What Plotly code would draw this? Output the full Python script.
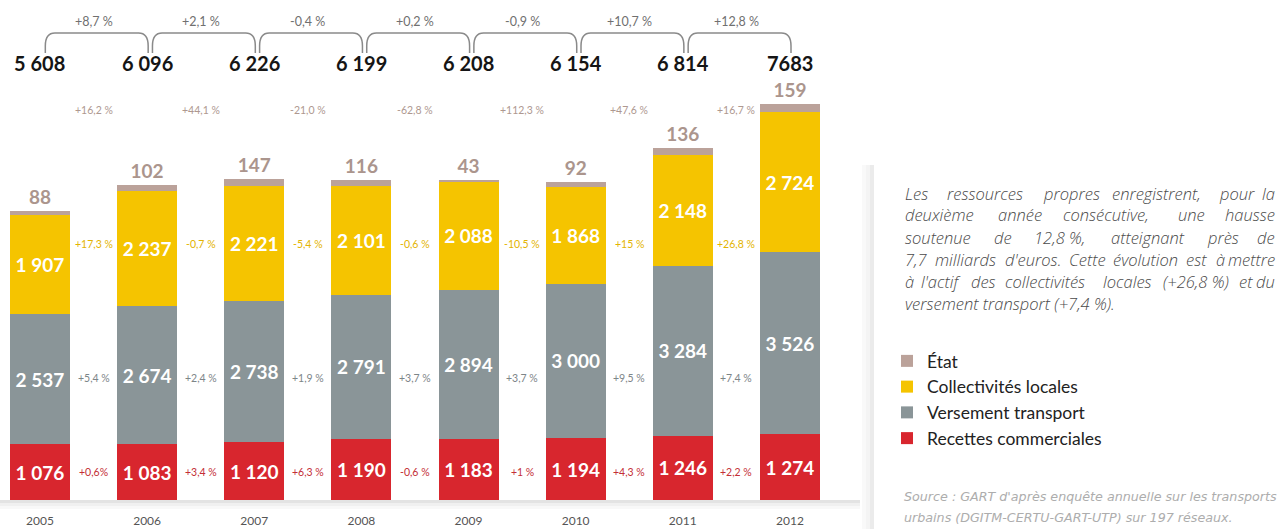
import plotly.graph_objects as go

years = ['2005', '2006', '2007', '2008', '2009', '2010', '2011', '2012']
recettes = [1076, 1083, 1120, 1190, 1183, 1194, 1246, 1274]
versement = [2537, 2674, 2738, 2791, 2894, 3000, 3284, 3526]
collectivites = [1907, 2237, 2221, 2101, 2088, 1868, 2148, 2724]
etat = [88, 102, 147, 116, 43, 92, 136, 159]
totaux = ['5 608', '6 096', '6 226', '6 199', '6 208', '6 154', '6 814', '7683']

evol_total = ['+8,7 %', '+2,1 %', '-0,4 %', '+0,2 %', '-0,9 %', '+10,7 %', '+12,8 %']
evol_etat = ['+16,2 %', '+44,1 %', '-21,0 %', '-62,8 %', '+112,3 %', '+47,6 %', '+16,7 %']
evol_coll = ['+17,3 %', '-0,7 %', '-5,4 %', '-0,6 %', '-10,5 %', '+15 %', '+26,8 %']
evol_vt = ['+5,4 %', '+2,4 %', '+1,9 %', '+3,7 %', '+3,7 %', '+9,5 %', '+7,4 %']
evol_rc = ['+0,6%', '+3,4 %', '+6,3 %', '-0,6 %', '+1 %', '+4,3 %', '+2,2 %']

paragraphe = [
    "Les ressources propres enregistrent, pour la",
    "deuxième année consécutive, une hausse",
    "soutenue de 12,8\u00a0%, atteignant près de",
    "7,7 milliards d'euros. Cette évolution est à mettre",
    "à l'actif des collectivités locales (+26,8\u00a0%) et du",
    "versement transport (+7,4\u00a0%).",
]
source = [
    "Source : GART d'après enquête annuelle sur les transports",
    "urbains (DGITM-CERTU-GART-UTP) sur 197 réseaux.",
]

C_RC = '#d8262e'
C_VT = '#8a9598'
C_COLL = '#f5c400'
C_ETAT = '#bba29a'
FONT = 'Lato'
PW, PH = 860, 500   # zone de tracé en pixels

xs = list(range(len(years)))


def fmt(v):
    return f'{v:,}'.replace(',', ' ')


def seg(name, vals, color):
    return go.Bar(
        x=xs, y=vals, name=name, marker=dict(color=color, line_width=0),
        text=[fmt(v) for v in vals],
        textposition='inside', insidetextanchor='middle',
        textfont=dict(family=FONT, size=19, color='white', weight='bold'),
    )


fig = go.Figure()
fig.add_trace(seg('Recettes commerciales', recettes, C_RC))
fig.add_trace(seg('Versement transport', versement, C_VT))
fig.add_trace(seg('Collectivités locales', collectivites, C_COLL))
fig.add_trace(go.Bar(
    x=xs, y=etat, name='État', marker=dict(color=C_ETAT, line_width=0),
    text=[fmt(v) for v in etat], textposition='outside', cliponaxis=False,
    textfont=dict(family=FONT, size=19, color='#ab958d', weight='bold'),
))

annotations = []
shapes = []


def note(x, y, text, size, color, xref='x', xanchor='center', family=FONT, weight='normal'):
    annotations.append(dict(x=x, y=y, xref=xref, yref='paper', text=text, showarrow=False,
                            xanchor=xanchor, yanchor='middle',
                            font=dict(family=family, size=size, color=color, weight=weight)))


def py(px):
    return 1 - px / PH


# totaux + accolades
for i, t in enumerate(totaux):
    note(i, py(63), t, 20, '#151515', weight='bold')
yb, yt, rx, ry = py(53), py(33), 0.09, 0.026
for i, p in enumerate(evol_total):
    x0, x1 = i + 0.05, i + 1.01
    shapes.append(dict(
        type='path', xref='x', yref='paper',
        path=(f'M {x0},{yb} L {x0},{yt - ry} Q {x0},{yt} {x0 + rx},{yt} '
              f'L {x1 - rx},{yt} Q {x1},{yt} {x1},{yt - ry} L {x1},{yb}'),
        line=dict(color='#8a8a8a', width=1.5)))
    note(i + 0.5, py(21), p, 12.5, '#707070')

# évolutions par poste
rows = [(evol_etat, 110, '#ae9890'), (evol_coll, 244, '#e3b400'),
        (evol_vt, 378, '#7d8588'), (evol_rc, 472, '#c42e36')]
for vals, ypx, col in rows:
    for i, p in enumerate(vals):
        note(i + 0.5, py(ypx), p, 10.5, col)


# texte justifié à droite (largeur des mots estimée)
def em(ch):
    if ch in "ijlI.,;:'!|() \u00a0":
        return 0.27
    if ch in 'ftr':
        return 0.34
    if ch in 'mM':
        return 0.86
    if ch in 'wW%':
        return 0.75
    if ch.isupper() or ch.isdigit() or ch == '+':
        return 0.58
    return 0.53


PSIZE = 16.5
PFONT = 'Open Sans'
PCOL = '#4a4a4a'
left, right = 903, 1277
for k, line in enumerate(paragraphe):
    y = py(193 + 22 * k)
    words = line.split(' ')
    if k == len(paragraphe) - 1:
        note(left / PW, y, f'<i>{line}</i>', PSIZE, PCOL, xref='paper', xanchor='left',
             family=PFONT, weight=300)
        continue
    widths = [sum(em(c) for c in w) * PSIZE for w in words]
    gap = (right - left - sum(widths)) / (len(words) - 1)
    xpos = left
    for j, w in enumerate(words):
        last = j == len(words) - 1
        note((right if last else xpos) / PW, y, f'<i>{w}</i>', PSIZE, PCOL, xref='paper',
             xanchor='right' if last else 'left', family=PFONT, weight=300)
        xpos += widths[j] + gap

for k, line in enumerate(source):
    note(902 / PW, py(496 + 21 * k), f'<i>{line}</i>', 12.7, '#adadad', xref='paper',
         xanchor='left', family='DejaVu Sans')

# ombres
for k, op in enumerate([0.22, 0.12, 0.06]):
    shapes.append(dict(type='rect', xref='paper', yref='paper', x0=0, x1=1,
                       y0=-(k * 3) / PH, y1=-(k * 3 + 3) / PH,
                       fillcolor='#808080', opacity=op, line_width=0, layer='below'))
for k, op in enumerate([0.05, 0.1, 0.18]):
    shapes.append(dict(type='rect', xref='paper', yref='paper',
                       x0=(862 + 4 * k) / PW, x1=(866 + 4 * k) / PW,
                       y0=py(165), y1=py(529),
                       fillcolor='#909090', opacity=op, line_width=0, layer='below'))

fig.update_layout(
    width=1283, height=529,
    barmode='stack', bargap=0.44,
    plot_bgcolor='white', paper_bgcolor='white',
    margin=dict(l=0, r=1283 - PW, t=0, b=529 - PH, autoexpand=False),
    xaxis=dict(range=[-0.373, 7.654], tickvals=xs, ticktext=years, showgrid=False,
               zeroline=False, showline=False, ticks='', ticklabelstandoff=12,
               tickfont=dict(family=FONT, size=12, color='#555555')),
    yaxis=dict(range=[0, 9690], visible=False),
    showlegend=True,
    legend=dict(x=887 / PW, y=py(343), xanchor='left', yanchor='top',
                traceorder='reversed', font=dict(family=FONT, size=17.5, color='#222222'),
                bgcolor='rgba(0,0,0,0)'),
    annotations=annotations, shapes=shapes,
)

fig.write_html('out.html', config={'displayModeBar': False},
               post_script="document.body.style.margin='0';")
